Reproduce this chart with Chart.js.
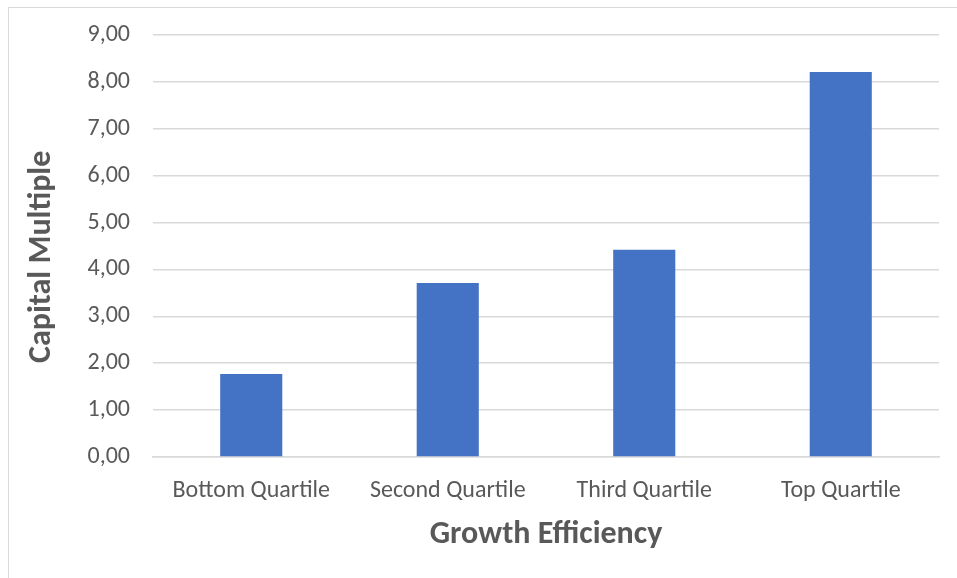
<!DOCTYPE html>
<html>
<head>
<meta charset="utf-8">
<script src="https://cdn.jsdelivr.net/npm/chart.js"></script>
<style>
  html, body { margin: 0; padding: 0; background: #fff; }
  #wrap { position: relative; width: 957px; height: 578px; }
  #frame { position: absolute; left: 8px; top: 7px; width: 960px; height: 580px; border: 1px solid #d9d9d9; box-sizing: border-box; }
  canvas { position: absolute; left: 0; top: 0; }
</style>
</head>
<body>
<div id="wrap">
  <div id="frame"></div>
  <canvas id="chart" width="957" height="578"></canvas>
</div>
<script>
// chart data
const categories = ["Bottom Quartile", "Second Quartile", "Third Quartile", "Top Quartile"];
const capitalMultiple = [1.77, 3.71, 4.42, 8.21];
const yTicks = [0, 1, 2, 3, 4, 5, 6, 7, 8, 9];

const gray = "#595959";
const font = "Calibri, Carlito, 'Open Sans', sans-serif";

new Chart(document.getElementById("chart"), {
  type: "bar",
  data: {
    labels: categories,
    datasets: [{
      data: capitalMultiple,
      backgroundColor: "#4472C4",
      barPercentage: 0.316,
      categoryPercentage: 1
    }]
  },
  options: {
    responsive: false,
    animation: false,
    layout: { padding: { top: 35, right: 18, left: 19, bottom: 20 } },
    plugins: { legend: { display: false }, tooltip: { enabled: false } },
    scales: {
      x: {
        grid: { display: false, drawTicks: false },
        border: { color: "#d9d9d9", width: 1.5 },
        ticks: { color: gray, font: { family: font, size: 24 }, padding: 20 },
        title: { display: true, text: "Growth Efficiency", color: gray, font: { family: font, size: 32, weight: "bold" }, padding: { top: 4, bottom: 4 } },
        afterFit: (s) => { s.height = 101; }
      },
      y: {
        min: 0,
        max: yTicks[yTicks.length - 1],
        afterBuildTicks: (s) => { s.ticks = yTicks.map(v => ({ value: v })); },
        grid: { color: "#d9d9d9", lineWidth: 1.5, drawTicks: false },
        border: { display: false },
        ticks: {
          color: gray,
          font: { family: font, size: 24 },
          padding: 23,
          callback: (v) => Number(v).toFixed(2).replace(".", ",")
        },
        // trailing spaces nudge the rotated title down a bit, like the original
        title: { display: true, text: "Capital Multiple   ", color: gray, font: { family: font, size: 32, weight: "bold" }, padding: { top: 4, bottom: 4 } },
        afterFit: (s) => { s.width = 134; s.paddingTop = 0; s.paddingBottom = 0; }
      }
    }
  }
});
</script>
</body>
</html>
